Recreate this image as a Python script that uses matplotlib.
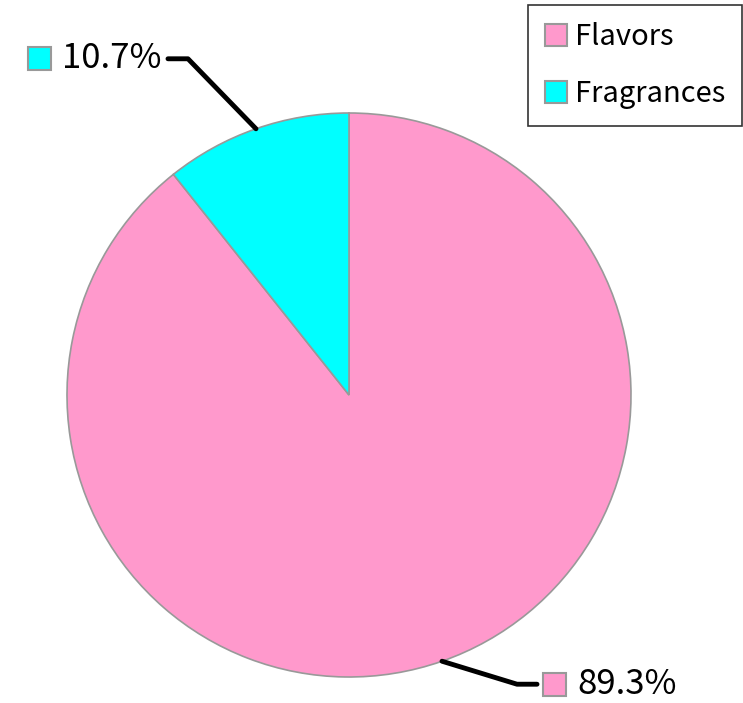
import numpy as np
import matplotlib

matplotlib.use("Agg")

import matplotlib.pyplot as plt
from matplotlib.patches import Rectangle
from matplotlib.offsetbox import AnnotationBbox, DrawingArea, HPacker, TextArea

plt.rcParams["font.family"] = ["Noto Sans CJK JP", "DejaVu Sans"]

categories = ["Flavors", "Fragrances"]
shares = [89.3, 10.7]
colors = ["#FF99CC", "#00FFFF"]
edge_color = "#999999"

W, H = 743, 703
PT = 72 / 100  # points per pixel at dpi 100
fig = plt.figure(figsize=(W / 100, H / 100), dpi=100)
ax = fig.add_axes([0, 0, 1, 1])

center = (349, H - 395)
radius = 282
wedges, _ = ax.pie(
    shares,
    colors=colors,
    startangle=90,
    counterclock=False,
    center=center,
    radius=radius,
    wedgeprops={"edgecolor": edge_color, "linewidth": 1.2},
    frame=True,
)
ax.set_xlim(0, W)
ax.set_ylim(0, H)
ax.set_aspect("equal")
ax.axis("off")

# elbow offsets (px) from the wedge edge, per slice
elbows = [(75, -23), (-68, 70)]
for wedge, share, color, (dx, dy) in zip(wedges, shares, colors, elbows):
    mid = np.deg2rad((wedge.theta1 + wedge.theta2) / 2)
    x0 = center[0] + radius * np.cos(mid)
    y0 = center[1] + radius * np.sin(mid)
    x1, y1 = x0 + dx, y0 + dy
    side = 1 if dx > 0 else -1
    x2 = x1 + side * 20
    ax.plot([x0, x1, x2], [y0, y1, y1], color="black", lw=3.5,
            solid_capstyle="round", solid_joinstyle="round", zorder=5)

    sq = 23 * PT
    da = DrawingArea(sq, sq, 0, 0)
    da.add_artist(Rectangle((0, 0), sq, sq, facecolor=color, edgecolor=edge_color, lw=1.5))
    txt = TextArea(f"{share:.1f}%", textprops={"fontsize": 25, "color": "black"})
    box = HPacker(children=[da, txt], align="center", pad=0, sep=11 * PT)
    ab = AnnotationBbox(box, (x2 + side * 6, y1), xycoords="data",
                        box_alignment=(0 if side > 0 else 1, 0.5), frameon=False)
    ax.add_artist(ab)

handles = [Rectangle((0, 0), 1, 1, facecolor=c, edgecolor=edge_color, lw=1.5) for c in colors]
leg = fig.legend(handles, categories, loc="upper right", bbox_to_anchor=(1 - 1 / W, 1 - 5 / H),
                 fontsize=21, frameon=True, fancybox=False, edgecolor="black",
                 handlelength=0.78, handleheight=0.78, handletextpad=0.25,
                 labelspacing=0.94, borderpad=0.58, borderaxespad=0)
leg.get_frame().set_linewidth(1.2)

fig.savefig("out.png", dpi=100)
